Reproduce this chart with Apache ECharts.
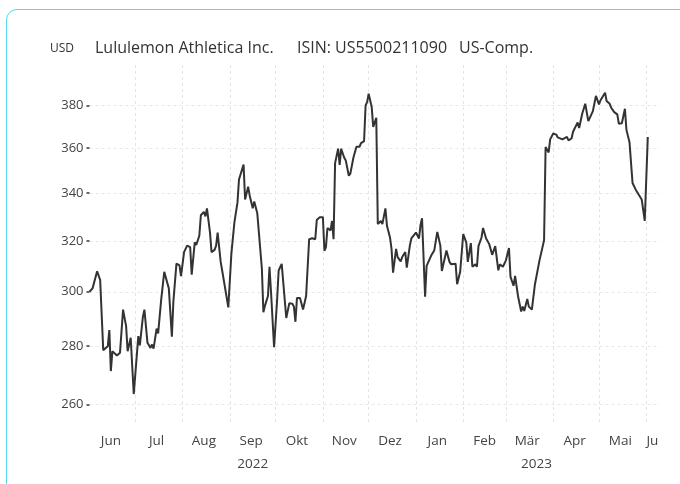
<!DOCTYPE html>
<html>
<head>
<meta charset="utf-8">
<script src="https://cdn.jsdelivr.net/npm/echarts@6/dist/echarts.min.js"></script>
<style>
  html, body { margin: 0; padding: 0; background: #fff; overflow: hidden; }
  #card { position: absolute; left: 6px; top: 9px; width: 720px; height: 520px;
          border: 1.5px solid #55d8f4; border-radius: 11px; box-sizing: border-box; }
  #chart { position: absolute; left: 0; top: 0; width: 680px; height: 484px; }
</style>
</head>
<body>
<div id="card"></div>
<div id="chart"></div>
<script>
const currency = 'USD';
const titleParts = ['Lululemon Athletica Inc.', 'ISIN: US5500211090', 'US-Comp.'];
const monthNames = ['Jan','Feb','Mär','Apr','Mai','Jun','Jul','Aug','Sep','Okt','Nov','Dez'];
const monthLabelDates = ['2022-06-15','2022-07-15','2022-08-15','2022-09-15','2022-10-15','2022-11-15','2022-12-15','2023-01-15','2023-02-15','2023-03-15','2023-04-15','2023-05-15','2023-06-05'];
const monthGridDates = ['2022-07-01','2022-08-01','2022-09-01','2022-10-01','2022-11-01','2022-12-01','2023-01-01','2023-02-01','2023-03-01','2023-04-01','2023-05-01','2023-06-01'];
const yearLabelDates = ['2022-09-16','2023-03-21'];
const yTicks = [260, 280, 300, 320, 340, 360, 380];

const dates = [
'2022-06-01','2022-06-03','2022-06-06','2022-06-08','2022-06-10','2022-06-13','2022-06-14','2022-06-15','2022-06-16','2022-06-19',
'2022-06-21','2022-06-23','2022-06-25','2022-06-26','2022-06-28','2022-06-30','2022-07-03','2022-07-04','2022-07-06','2022-07-07',
'2022-07-09','2022-07-11','2022-07-12','2022-07-13','2022-07-15','2022-07-16','2022-07-18','2022-07-20','2022-07-23','2022-07-25',
'2022-07-26','2022-07-28','2022-07-30','2022-07-31','2022-08-02','2022-08-04','2022-08-06','2022-08-07','2022-08-09','2022-08-10',
'2022-08-12','2022-08-13','2022-08-15','2022-08-16','2022-08-17','2022-08-19','2022-08-20','2022-08-22','2022-08-23','2022-08-24',
'2022-08-26','2022-08-27','2022-08-28','2022-08-31','2022-09-02','2022-09-04','2022-09-06','2022-09-07','2022-09-10','2022-09-11',
'2022-09-13','2022-09-14','2022-09-16','2022-09-17','2022-09-19','2022-09-22','2022-09-23','2022-09-24','2022-09-26','2022-09-27',
'2022-09-28','2022-09-30','2022-10-02','2022-10-03','2022-10-05','2022-10-06','2022-10-08','2022-10-10','2022-10-12','2022-10-13',
'2022-10-14','2022-10-15','2022-10-17','2022-10-19','2022-10-21','2022-10-22','2022-10-23','2022-10-25','2022-10-27','2022-10-28',
'2022-10-30','2022-11-01','2022-11-02','2022-11-03','2022-11-04','2022-11-06','2022-11-07','2022-11-08','2022-11-09','2022-11-11',
'2022-11-12','2022-11-13','2022-11-15','2022-11-16','2022-11-18','2022-11-19','2022-11-21','2022-11-23','2022-11-25','2022-11-26',
'2022-11-28','2022-11-29','2022-11-30','2022-12-01','2022-12-03','2022-12-04','2022-12-06','2022-12-07','2022-12-09','2022-12-10',
'2022-12-12','2022-12-13','2022-12-15','2022-12-16','2022-12-17','2022-12-19','2022-12-20','2022-12-22','2022-12-23','2022-12-25',
'2022-12-26','2022-12-28','2022-12-29','2023-01-01','2023-01-03','2023-01-04','2023-01-05','2023-01-07','2023-01-08','2023-01-11',
'2023-01-13','2023-01-15','2023-01-17','2023-01-18','2023-01-21','2023-01-23','2023-01-24','2023-01-27','2023-01-28','2023-01-30',
'2023-02-01','2023-02-03','2023-02-04','2023-02-06','2023-02-07','2023-02-09','2023-02-10','2023-02-11','2023-02-13','2023-02-14',
'2023-02-16','2023-02-18','2023-02-20','2023-02-22','2023-02-24','2023-02-25','2023-02-27','2023-03-01','2023-03-03','2023-03-04',
'2023-03-06','2023-03-07','2023-03-09','2023-03-11','2023-03-12','2023-03-13','2023-03-15','2023-03-16','2023-03-18','2023-03-20',
'2023-03-23','2023-03-26','2023-03-27','2023-03-29','2023-03-30','2023-04-01','2023-04-03','2023-04-04','2023-04-07','2023-04-08',
'2023-04-10','2023-04-11','2023-04-13','2023-04-14','2023-04-15','2023-04-17','2023-04-18','2023-04-20','2023-04-21','2023-04-22',
'2023-04-24','2023-04-25','2023-04-27','2023-04-29','2023-05-01','2023-05-02','2023-05-03','2023-05-05','2023-05-06','2023-05-08',
'2023-05-09','2023-05-11','2023-05-13','2023-05-14','2023-05-16','2023-05-18','2023-05-19','2023-05-21','2023-05-23','2023-05-25',
'2023-05-29','2023-05-31','2023-06-02'
];
const prices = [
300.0,301.3,307.9,304.5,278.6,280.0,285.8,271.3,278.2,276.7,
277.7,293.3,287.2,278.2,283.0,263.5,283.6,280.3,290.6,293.3,
281.2,279.4,280.6,279.1,286.3,284.6,297.0,307.7,301.3,283.4,
296.4,310.9,310.2,306.0,315.5,318.1,317.5,306.6,319.4,318.4,
322.1,330.6,332.0,330.1,333.5,323.4,315.5,316.4,318.1,323.4,
311.6,308.1,307.4,294.1,314.8,327.6,335.9,345.9,352.5,337.3,
342.8,339.0,333.5,336.4,331.4,309.0,292.3,294.7,298.4,309.7,
299.9,279.6,297.0,308.2,310.8,310.2,290.2,295.7,295.5,294.4,
288.8,297.6,297.6,293.3,298.4,298.0,320.7,321.1,320.7,328.6,
329.8,329.8,316.0,317.5,325.3,324.3,328.2,320.7,353.2,359.7,
352.4,359.7,355.6,354.4,347.6,348.5,355.6,360.6,360.6,362.3,
363.2,380.0,381.6,385.7,379.2,369.8,374.1,326.9,328.2,326.9,
333.5,326.2,321.4,316.8,307.4,316.8,313.5,311.8,313.5,315.5,
309.3,318.1,321.0,323.4,321.0,326.5,329.3,298.1,310.0,314.1,
316.1,323.7,318.1,308.0,316.1,311.6,310.7,310.9,302.9,307.7,
322.8,319.4,311.6,319.1,309.7,310.6,309.7,317.9,321.4,325.3,
321.0,318.8,314.4,317.9,308.3,310.6,309.7,312.2,317.1,305.7,
302.3,306.1,298.1,292.6,294.4,292.8,297.3,294.4,293.3,302.8,
312.2,320.3,360.5,358.0,364.0,366.7,366.2,364.9,364.0,363.5,
365.1,363.5,364.4,367.5,367.8,371.9,369.3,376.0,376.8,380.8,
372.5,372.3,377.3,384.6,380.5,382.5,381.6,386.2,382.1,380.8,
378.9,376.8,375.7,371.3,371.5,378.4,368.4,362.7,344.4,341.6,
337.3,328.2,365.1
];

const ts = s => { const p = s.split('-'); return Date.UTC(+p[0], +p[1]-1, +p[2]); };
const seriesData = dates.map((d, i) => [ts(d), prices[i]]);
const xMin = ts('2022-06-01');
const xMax = ts('2023-06-10');
const FONT = 'Open Sans';

const chart = echarts.init(document.getElementById('chart'), null, { renderer: 'canvas' });
chart.setOption({
  animation: false,
  textStyle: { fontFamily: FONT },
  grid: { left: 89.5, right: 20, top: 65, bottom: 61, containLabel: false },
  graphic: [
    { type: 'text', left: 50, top: 43, style: { text: currency, fontSize: 12, fill: '#333', fontFamily: FONT } },
    { type: 'text', left: 95, top: 40, style: { text: titleParts[0], fontSize: 16, fill: '#333', fontFamily: FONT } },
    { type: 'text', left: 297, top: 40, style: { text: titleParts[1], fontSize: 16, fill: '#333', fontFamily: FONT } },
    { type: 'text', left: 459, top: 40, style: { text: titleParts[2], fontSize: 16, fill: '#333', fontFamily: FONT } }
  ],
  xAxis: [{
    type: 'value', min: xMin, max: xMax, scale: true,
    axisLine: { show: false },
    axisTick: { show: false, customValues: monthGridDates.map(ts) },
    splitLine: { show: true, lineStyle: { color: '#e4e4e4', type: [3, 3], width: 1 } },
    axisLabel: {
      customValues: monthLabelDates.map(ts),
      margin: 11, fontSize: 13.5, color: '#444', fontFamily: FONT,
      formatter: function (v) {
        const d = new Date(v);
        if (d.getUTCFullYear() === 2023 && d.getUTCMonth() === 5) return 'Ju';
        return monthNames[d.getUTCMonth()];
      }
    }
  }, {
    type: 'value', min: xMin, max: xMax, scale: true, position: 'bottom', offset: 23,
    axisLine: { show: false }, axisTick: { show: false }, splitLine: { show: false },
    axisLabel: {
      customValues: yearLabelDates.map(ts),
      margin: 11, fontSize: 13.5, color: '#444', fontFamily: FONT,
      formatter: function (v) { return String(new Date(v).getUTCFullYear()); }
    }
  }],
  yAxis: {
    type: 'log', logBase: 10, min: 254, max: 400,
    axisLine: { show: false },
    axisTick: { show: true, length: 3, customValues: yTicks, lineStyle: { color: '#333', width: 1.5 } },
    splitLine: { show: true, lineStyle: { color: '#e8e8e8', type: [3, 3], width: 1 } },
    axisLabel: { customValues: yTicks, margin: 6, fontSize: 13, color: '#444', fontFamily: FONT, formatter: v => String(Math.round(v)) }
  },
  series: [{
    type: 'line', xAxisIndex: 0, data: seriesData, showSymbol: false, symbol: 'none',
    lineStyle: { color: '#333', width: 2 }, clip: true
  }]
});
</script>
</body>
</html>
